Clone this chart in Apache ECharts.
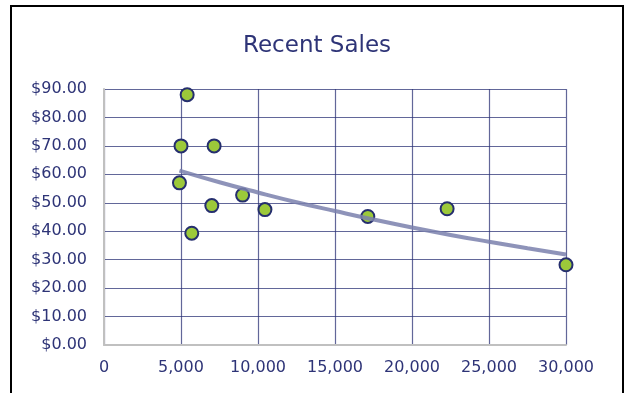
<!DOCTYPE html>
<html>
<head>
<meta charset="utf-8">
<script src="https://cdn.jsdelivr.net/npm/echarts@6/dist/echarts.min.js"></script>
<style>
  html, body { margin: 0; padding: 0; background: #fff; }
  #chart { width: 625px; height: 393px; }
</style>
</head>
<body>
<div id="chart"></div>
<script>
// recent sales: units (x) vs price (y)
var salesUnits = [5400, 5000, 7150, 4900, 7000, 9000, 10450, 5700, 17130, 22280, 30000]
var salesPrice = [88.0, 70.0, 70.0, 57.0, 49.0, 52.7, 47.6, 39.3, 45.2, 47.9, 28.2]

// trendline
var trendUnits = [4900, 7500, 10000, 12500, 15000, 17500, 20000, 22500, 25000, 27500, 30000]
var trendPrice = [61.3, 57.2, 53.6, 50.2, 47.1, 44.1, 41.3, 38.7, 36.3, 34.0, 31.8]

var xTicks = [0, 5000, 10000, 15000, 20000, 25000, 30000]
var yTicks = [0, 10, 20, 30, 40, 50, 60, 70, 80, 90]

var navy = '#2e3477'
var font = 'DejaVu Sans'

function pairs (xs, ys) {
  return xs.map(function (x, i) { return [x, ys[i]] })
}

var chart = echarts.init(document.getElementById('chart'))
var option = {
  animation: false,
  backgroundColor: '#fff',
  title: {
    text: 'Recent Sales',
    left: 312,
    top: 30,
    textAlign: 'center',
    textStyle: { color: navy, fontFamily: font, fontSize: 23, fontWeight: 'normal' }
  },
  graphic: [{
    type: 'rect',
    shape: { x: 11, y: 6, width: 612, height: 400 },
    style: { fill: null, stroke: '#000', lineWidth: 2 },
    silent: true
  }],
  grid: { left: 104, right: 59, top: 89, bottom: 48 },
  xAxis: {
    type: 'value',
    min: xTicks[0],
    max: xTicks[xTicks.length - 1],
    interval: 5000,
    axisLine: { show: true, lineStyle: { color: '#c0c0c0', width: 2 } },
    axisTick: { show: false },
    axisLabel: {
      color: navy,
      fontFamily: font,
      fontSize: 16,
      margin: 15,
      formatter: function (v) { return v.toLocaleString('en-US') }
    },
    splitLine: { show: true, lineStyle: { color: 'rgba(46,52,119,0.75)', width: 1.2 } }
  },
  yAxis: {
    type: 'value',
    min: yTicks[0],
    max: yTicks[yTicks.length - 1],
    interval: 10,
    axisLine: { show: true, lineStyle: { color: '#c0c0c0', width: 2 } },
    axisTick: { show: false },
    axisLabel: {
      color: navy,
      fontFamily: font,
      fontSize: 16,
      margin: 17,
      formatter: function (v) { return '$' + v.toFixed(2) }
    },
    splitLine: { show: true, lineStyle: { color: 'rgba(46,52,119,0.75)', width: 1.2 } }
  },
  series: [{
    type: 'scatter',
    data: pairs(salesUnits, salesPrice),
    symbol: 'circle',
    symbolSize: 13,
    itemStyle: { color: '#9cc93a', borderColor: '#252e6e', borderWidth: 2, opacity: 1 },
    z: 2
  }, {
    type: 'line',
    data: pairs(trendUnits, trendPrice),
    smooth: true,
    showSymbol: false,
    lineStyle: { color: '#7a80ad', width: 4, opacity: 0.85 },
    z: 3
  }]
}
chart.setOption(option)
</script>
</body>
</html>
